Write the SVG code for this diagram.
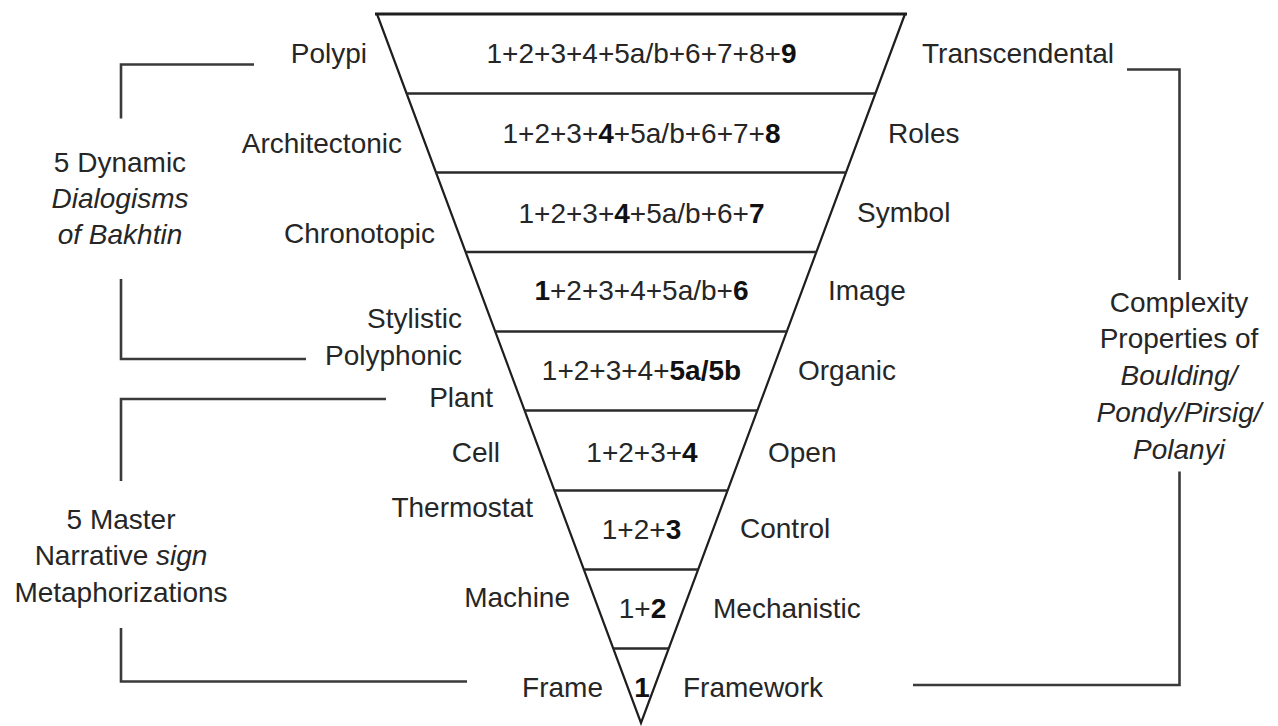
<svg xmlns="http://www.w3.org/2000/svg" width="1278" height="726" viewBox="0 0 1278 726">
<style>
text{font-family:"Liberation Sans",Arial,sans-serif;font-size:28px;fill:#262626}
.m{text-anchor:middle}
.e{text-anchor:end}
.b{font-weight:bold;fill:#111}
.i{font-style:italic}
.tri{fill:none;stroke:#1e1e1e;stroke-width:2.2;stroke-linejoin:miter}
.tier{stroke:#2a2a2a;stroke-width:2.6}
.br{fill:none;stroke:#3a3a3a;stroke-width:2.6}
</style>
<rect width="1278" height="726" fill="#fff"/>
<g id="pyramid">
<polyline class="tri" points="377,14 641,723 905,14"/>
<line x1="375" y1="14" x2="907" y2="14" stroke="#1e1e1e" stroke-width="3.2"/>
<g class="tier">
<line x1="406.3" y1="93.5" x2="875.7" y2="93.5"/>
<line x1="435.6" y1="172.5" x2="846.4" y2="172.5"/>
<line x1="465.3" y1="252" x2="816.7" y2="252"/>
<line x1="494.9" y1="331.5" x2="787.1" y2="331.5"/>
<line x1="524.3" y1="410.5" x2="757.7" y2="410.5"/>
<line x1="554.1" y1="490.5" x2="727.9" y2="490.5"/>
<line x1="583.7" y1="569.5" x2="698.3" y2="569.5"/>
<line x1="613.3" y1="648.5" x2="668.7" y2="648.5"/>
</g>
</g>
<g id="tier9"><text class="m" x="641.5" y="63">1+2+3+4+5a/b+6+7+8+<tspan class="b">9</tspan></text></g>
<g id="tier8"><text class="m" x="641.5" y="143">1+2+3+<tspan class="b">4</tspan>+5a/b+6+7+<tspan class="b">8</tspan></text></g>
<g id="tier7"><text class="m" x="641.5" y="223">1+2+3+<tspan class="b">4</tspan>+5a/b+6+<tspan class="b">7</tspan></text></g>
<g id="tier6"><text class="m" x="641.5" y="300"><tspan class="b">1</tspan>+2+3+4+5a/b+<tspan class="b">6</tspan></text></g>
<g id="tier5"><text class="m" x="641.5" y="380">1+2+3+4+<tspan class="b">5a/5b</tspan></text></g>
<g id="tier4"><text class="m" x="642" y="461.5">1+2+3+<tspan class="b">4</tspan></text></g>
<g id="tier3"><text class="m" x="641.5" y="538.5">1+2+<tspan class="b">3</tspan></text></g>
<g id="tier2"><text class="m" x="642.5" y="618">1+<tspan class="b">2</tspan></text></g>
<g id="tier1"><text class="m b" x="642" y="697">1</text></g>
<g id="left-labels">
<text class="e" x="367" y="63">Polypi</text>
<text class="e" x="402" y="153">Architectonic</text>
<text class="e" x="435" y="243">Chronotopic</text>
<text class="e" x="462" y="328">Stylistic</text>
<text class="e" x="462" y="365">Polyphonic</text>
<text class="e" x="493" y="407">Plant</text>
<text class="e" x="500" y="462">Cell</text>
<text class="e" x="533" y="517">Thermostat</text>
<text class="e" x="570" y="607">Machine</text>
<text class="e" x="603" y="697">Frame</text>
</g>
<g id="right-labels">
<text x="922" y="63">Transcendental</text>
<text x="888" y="143">Roles</text>
<text x="857" y="222">Symbol</text>
<text x="828" y="300">Image</text>
<text x="798" y="380">Organic</text>
<text x="768" y="462">Open</text>
<text x="740" y="538">Control</text>
<text x="713" y="618">Mechanistic</text>
<text x="683" y="697">Framework</text>
</g>
<g id="dialogisms">
<text class="m" x="120" y="171.5">5 Dynamic</text>
<text class="m i" x="120" y="207.5">Dialogisms</text>
<text class="m i" x="120" y="243.5">of Bakhtin</text>
</g>
<g id="metaphorizations">
<text class="m" x="121" y="528.5">5 Master</text>
<text class="m" x="121" y="565">Narrative <tspan class="i">sign</tspan></text>
<text class="m" x="121" y="601.5">Metaphorizations</text>
</g>
<g id="complexity">
<text class="m" x="1179" y="311.5">Complexity</text>
<text class="m" x="1179" y="348">Properties of</text>
<text class="m i" x="1179" y="385">Boulding/</text>
<text class="m i" x="1179" y="421.5">Pondy/Pirsig/</text>
<text class="m i" x="1179" y="458.5">Polanyi</text>
</g>
<g id="connectors">
<polyline class="br" points="254,64.5 121,64.5 121,118.5"/>
<polyline class="br" points="121,279 121,359 306,359"/>
<polyline class="br" points="386,399 121,399 121,481"/>
<polyline class="br" points="121,628 121,681.5 467,681.5"/>
<polyline class="br" points="1127,69.5 1179.5,69.5 1179.5,280"/>
<polyline class="br" points="1179.5,471.5 1179.5,685 913,685"/>
</g>
</svg>
